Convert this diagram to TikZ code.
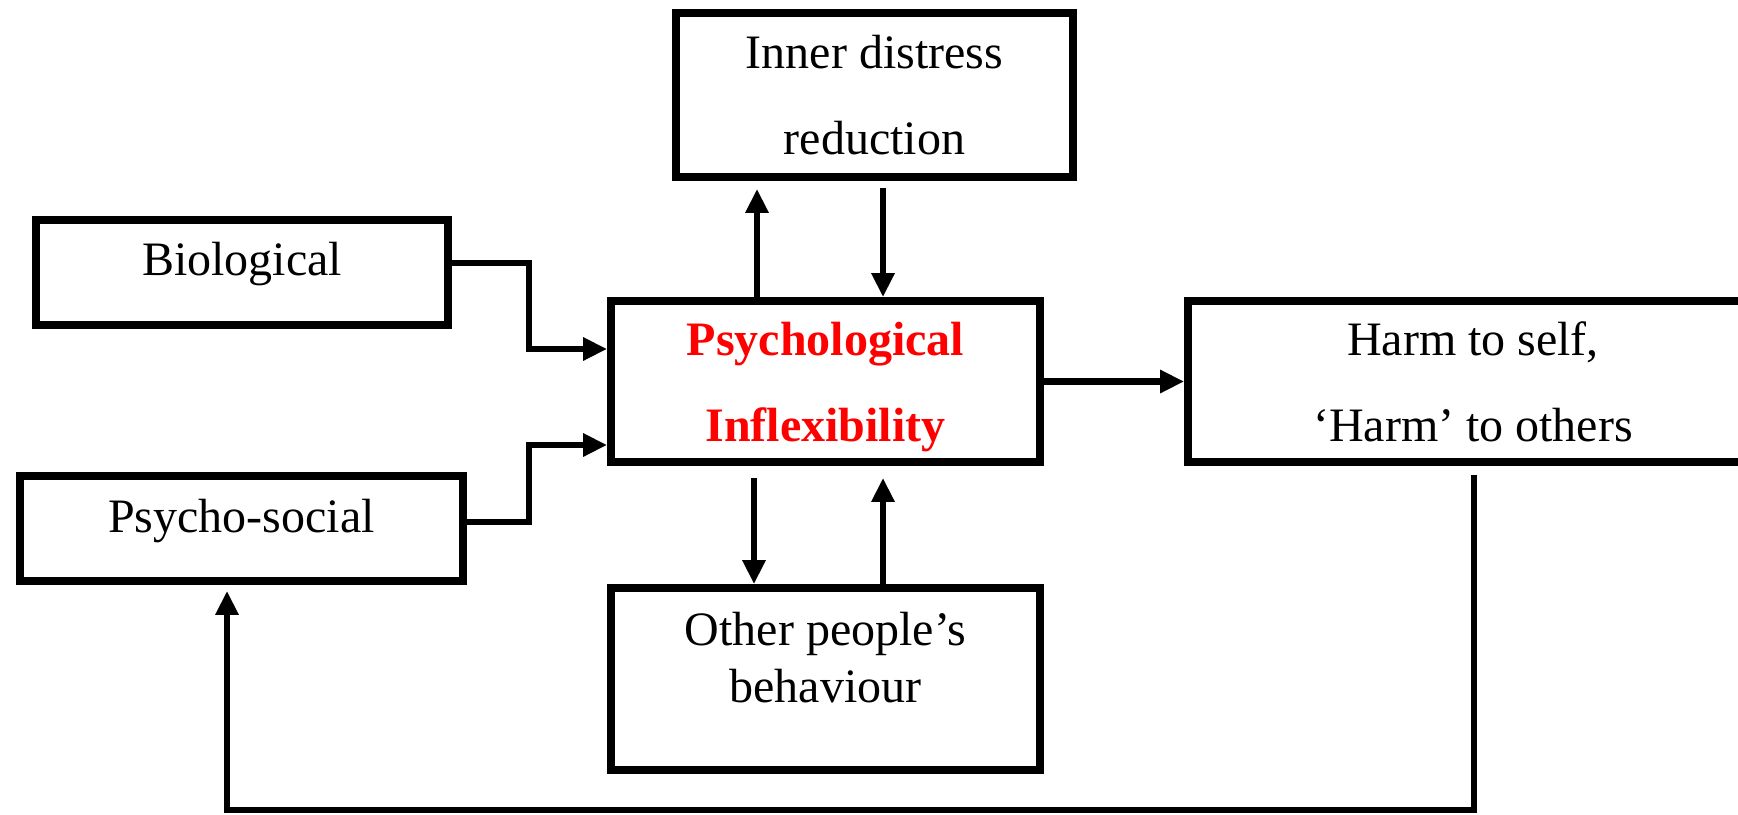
\documentclass[tikz,border=0pt]{standalone}
\usepackage{fontspec}
\setmainfont{Liberation Serif}
\usetikzlibrary{calc,arrows.meta}
\definecolor{inflexRed}{RGB}{255,0,0}
\begin{document}
\begin{tikzpicture}[x=0.5pt,y=-0.5pt,
  box/.style={draw,line width=3.9pt,inner sep=0pt,align=center,text depth=0pt,
              font=\fontsize{24}{43}\selectfont},
  link/.style={line width=3.3pt,-{Triangle[length=12pt,width=11pt]}}]
\clip (0,0) rectangle (1738,814);
\node[box,minimum width=198.5pt,minimum height=82pt] (inner) at (874.5,95) {Inner distress\\reduction};
\node[box,minimum width=206pt,minimum height=52.5pt,text depth=14pt] (bio) at (242,272.5) {Biological};
\node[box,minimum width=214.5pt,minimum height=80.5pt,text=inflexRed,font=\fontsize{24}{43}\selectfont\bfseries] (psych) at (825.5,381.5) {Psychological\\Inflexibility};
\node[box,minimum width=285pt,minimum height=80.5pt] (harm) at (1473,381.5) {Harm to self,\\‘Harm’ to others};
\node[box,minimum width=221.5pt,minimum height=52.5pt,text depth=13pt] (psycho) at (241.5,528.5) {Psycho-social};
\node[box,minimum width=214.5pt,minimum height=91pt,text depth=22pt,font=\fontsize{24}{28.5}\selectfont] (other) at (825.5,679) {Other people’s\\behaviour};
\coordinate (bioknee) at (529,349);
\coordinate (psyknee) at (529,445);
\coordinate (loopR) at (1474,810);
\coordinate (loopL) at (227,810);
\draw[link] ($(bio.east)+(0,-9.5)$) -| (bioknee) -- (bioknee -| psych.west);
\draw[link] ($(psycho.east)+(0,-6.5)$) -| (psyknee) -- (psyknee -| psych.west);
\draw[link] (psych.east) -- (psych.east -| harm.west);
\draw[link] ($(psych.north)+(-68.5,0)$) -- ($(inner.south)+(-117.5,8)$);
\draw[link] ($(inner.south)+(8.5,7)$) -- ($(psych.north)+(57.5,0)$);
\draw[link] ($(psych.south)+(-71.5,12)$) -- ($(other.north)+(-71.5,0)$);
\draw[link] ($(other.north)+(57.5,0)$) -- ($(psych.south)+(57.5,12)$);
\draw[link] ($(harm.south)+(1,9)$) -- (loopR) -- (loopL) -- ($(psycho.south)+(-14.5,6)$);
\end{tikzpicture}
\end{document}
